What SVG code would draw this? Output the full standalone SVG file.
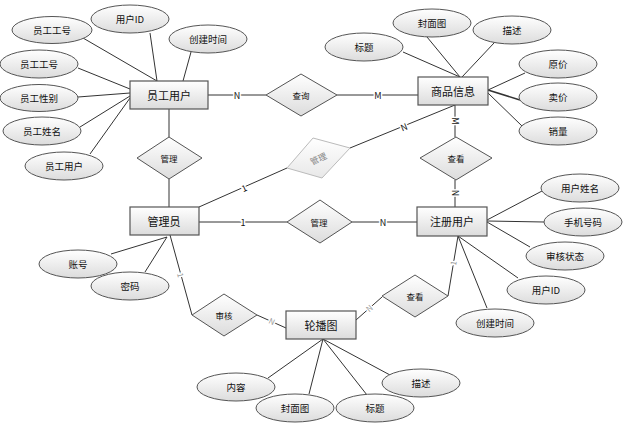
<svg xmlns="http://www.w3.org/2000/svg" width="627" height="429" viewBox="0 0 627 429">
<defs>
<linearGradient id="g" x1="0" y1="0" x2="0" y2="1"><stop offset="0" stop-color="#ffffff"/><stop offset="1" stop-color="#dcdcdc"/></linearGradient>
<linearGradient id="gl" x1="0" y1="0" x2="0" y2="1"><stop offset="0" stop-color="#ffffff"/><stop offset="1" stop-color="#e8e8e8"/></linearGradient>
</defs>
<style>
text{font-family:"Noto Sans CJK SC","Liberation Sans",sans-serif;text-anchor:middle;dominant-baseline:central;fill:#111}
.ent rect{fill:url(#g);stroke:#555;stroke-width:1.2}
.ent text{font-size:11px}
.att ellipse{fill:url(#g);stroke:#555;stroke-width:1}
.att text{font-size:9.5px}
.rel polygon{fill:url(#g);stroke:#555;stroke-width:1}
.rel text{font-size:8.5px}
#conn line,#conn polyline{stroke:#333;stroke-width:1;fill:none}
.lb{font-size:9px;paint-order:stroke;stroke:#fff;stroke-width:3px}
.lf{font-size:8px;fill:#999;paint-order:stroke;stroke:#fff;stroke-width:3px}
</style>
<rect width="627" height="429" fill="#fff"/>
<g id="conn">
<!-- 员工用户 attributes -->
<line x1="83" y1="38" x2="157" y2="81"/>
<line x1="150" y1="33" x2="157" y2="81"/>
<line x1="191" y1="52" x2="183" y2="81"/>
<line x1="78" y1="68" x2="130" y2="89"/>
<line x1="78" y1="97" x2="130" y2="93"/>
<line x1="80" y1="127" x2="130" y2="96"/>
<line x1="90" y1="154" x2="130" y2="98"/>
<!-- 商品信息 attributes -->
<line x1="403" y1="52" x2="460" y2="77"/>
<line x1="427" y1="37" x2="460" y2="77"/>
<line x1="494" y1="43" x2="462" y2="77"/>
<line x1="488" y1="90" x2="525" y2="73"/>
<line x1="488" y1="90" x2="520" y2="100" style="stroke-width:1.6"/>
<line x1="488" y1="93" x2="522" y2="126"/>
<!-- 注册用户 attributes -->
<line x1="487" y1="220" x2="542" y2="191"/>
<line x1="487" y1="221" x2="544" y2="222"/>
<line x1="487" y1="222" x2="530" y2="247"/>
<line x1="458" y1="236" x2="518" y2="278"/>
<line x1="458" y1="236" x2="487" y2="308"/>
<!-- 管理员 attributes -->
<line x1="111" y1="254" x2="167" y2="237"/>
<line x1="145" y1="272" x2="167" y2="237"/>
<!-- 轮播图 attributes -->
<line x1="323" y1="339" x2="268" y2="378"/>
<line x1="323" y1="339" x2="309" y2="394"/>
<line x1="323" y1="339" x2="367" y2="395"/>
<line x1="323" y1="339" x2="390" y2="375"/>
<!-- relationships -->
<line x1="208" y1="95" x2="266" y2="95"/>
<line x1="337" y1="95" x2="418" y2="95"/>
<line x1="169" y1="109" x2="169" y2="137"/>
<line x1="169" y1="179" x2="169" y2="207"/>
<line x1="199" y1="222" x2="287" y2="222"/>
<line x1="352" y1="222" x2="417" y2="222"/>
<line x1="199" y1="207" x2="287" y2="168"/>
<line x1="350" y1="148" x2="455" y2="105"/>
<line x1="455" y1="105" x2="455" y2="137"/>
<line x1="455" y1="180" x2="455" y2="207"/>
<line x1="170" y1="235" x2="192" y2="315"/>
<line x1="257" y1="315" x2="286" y2="328"/>
<line x1="356" y1="320" x2="382" y2="297"/>
<line x1="448" y1="296" x2="458" y2="236"/>
<text class="lb" x="237" y="95">N</text>
<text class="lb" x="378" y="95">M</text>
<text class="lb" x="243" y="222">1</text>
<text class="lb" x="383" y="222">N</text>
<text class="lb" x="244" y="188" transform="rotate(-24 244 188)">1</text>
<text class="lb" x="404" y="127" transform="rotate(-22 404 127)">N</text>
<text class="lb" x="455" y="121" transform="rotate(90 455 121)">M</text>
<text class="lb" x="455" y="193" transform="rotate(90 455 193)">N</text>
<text class="lf" x="181" y="275" transform="rotate(75 181 275)">1</text>
<text class="lf" x="272" y="321" transform="rotate(24 272 321)">N</text>
<text class="lf" x="369" y="308" transform="rotate(-42 369 308)">N</text>
<text class="lf" x="453" y="263" transform="rotate(-80 453 263)">1</text>
</g>
<g id="e-staff" class="ent"><rect x="130" y="81" width="78" height="28"/><text x="169" y="95">员工用户</text></g>
<g id="e-goods" class="ent"><rect x="418" y="77" width="70" height="28"/><text x="453" y="91">商品信息</text></g>
<g id="e-admin" class="ent"><rect x="130" y="207" width="69" height="28"/><text x="164" y="221">管理员</text></g>
<g id="e-user" class="ent"><rect x="417" y="207" width="70" height="29"/><text x="452" y="221">注册用户</text></g>
<g id="e-banner" class="ent"><rect x="286" y="311" width="70" height="28"/><text x="321" y="325">轮播图</text></g>
<g id="r-query" class="rel"><polygon points="301,74 337,95 301,116 266,95"/><text x="301" y="95">查询</text></g>
<g id="r-manage1" class="rel"><polygon points="169,137 202,158 169,179 137,158"/><text x="169" y="158">管理</text></g>
<g id="r-view1" class="rel"><polygon points="456,137 492,158 456,180 420,158"/><text x="456" y="158">查看</text></g>
<g id="r-manage2" class="rel"><polygon points="320,200 352,222 320,243 287,222"/><text x="319" y="222">管理</text></g>
<g id="r-audit" class="rel"><polygon points="224,294 257,315 224,336 192,315"/><text x="224" y="315">审核</text></g>
<g id="r-view2" class="rel"><polygon points="415,275 448,296 415,317 382,296"/><text x="415" y="296">查看</text></g>
<g id="r-manage3" class="rel"><polygon points="313,138 350,148 322,178 287,168" style="fill:url(#gl);stroke:#bbb"/><text x="318" y="158" transform="rotate(-25 318 158)" style="fill:#888">管理</text></g>
<g id="a-s1" class="att"><ellipse cx="52" cy="30" rx="40" ry="13.5"/><text x="52" y="30">员工工号</text></g>
<g id="a-s2" class="att"><ellipse cx="130" cy="19" rx="39" ry="14"/><text x="130" y="19">用户ID</text></g>
<g id="a-s3" class="att"><ellipse cx="208" cy="39" rx="39" ry="14"/><text x="208" y="39">创建时间</text></g>
<g id="a-s4" class="att"><ellipse cx="39" cy="64" rx="39" ry="14"/><text x="39" y="64">员工工号</text></g>
<g id="a-s5" class="att"><ellipse cx="39" cy="98" rx="39" ry="13.5"/><text x="39" y="98">员工性别</text></g>
<g id="a-s6" class="att"><ellipse cx="42" cy="131" rx="39" ry="14"/><text x="42" y="131">员工姓名</text></g>
<g id="a-s7" class="att"><ellipse cx="64" cy="166" rx="39" ry="14"/><text x="64" y="166">员工用户</text></g>
<g id="a-g1" class="att"><ellipse cx="364" cy="47" rx="39" ry="14"/><text x="364" y="47">标题</text></g>
<g id="a-g2" class="att"><ellipse cx="432" cy="23" rx="39" ry="14"/><text x="432" y="23">封面图</text></g>
<g id="a-g3" class="att"><ellipse cx="512" cy="30" rx="39" ry="14"/><text x="512" y="30">描述</text></g>
<g id="a-g4" class="att"><ellipse cx="558" cy="64" rx="39" ry="14"/><text x="558" y="64">原价</text></g>
<g id="a-g5" class="att"><ellipse cx="558" cy="97" rx="39" ry="14"/><text x="558" y="97">卖价</text></g>
<g id="a-g6" class="att"><ellipse cx="558" cy="131" rx="39" ry="14"/><text x="558" y="131">销量</text></g>
<g id="a-u1" class="att"><ellipse cx="580" cy="188" rx="39" ry="14"/><text x="580" y="188">用户姓名</text></g>
<g id="a-u2" class="att"><ellipse cx="583" cy="222" rx="39" ry="14"/><text x="583" y="222">手机号码</text></g>
<g id="a-u3" class="att"><ellipse cx="565" cy="256" rx="39" ry="14"/><text x="565" y="256">审核状态</text></g>
<g id="a-u4" class="att"><ellipse cx="546" cy="290" rx="39" ry="14"/><text x="546" y="290">用户ID</text></g>
<g id="a-u5" class="att"><ellipse cx="495" cy="323" rx="39" ry="14"/><text x="495" y="323">创建时间</text></g>
<g id="a-a1" class="att"><ellipse cx="78" cy="264" rx="39" ry="14"/><text x="78" y="264">账号</text></g>
<g id="a-a2" class="att"><ellipse cx="130" cy="286" rx="39" ry="14"/><text x="130" y="286">密码</text></g>
<g id="a-b1" class="att"><ellipse cx="236" cy="387" rx="39" ry="14"/><text x="236" y="387">内容</text></g>
<g id="a-b2" class="att"><ellipse cx="295" cy="408" rx="39" ry="14"/><text x="295" y="408">封面图</text></g>
<g id="a-b3" class="att"><ellipse cx="375" cy="408" rx="39" ry="14"/><text x="375" y="408">标题</text></g>
<g id="a-b4" class="att"><ellipse cx="421" cy="383" rx="39" ry="14"/><text x="421" y="383">描述</text></g>
</svg>
